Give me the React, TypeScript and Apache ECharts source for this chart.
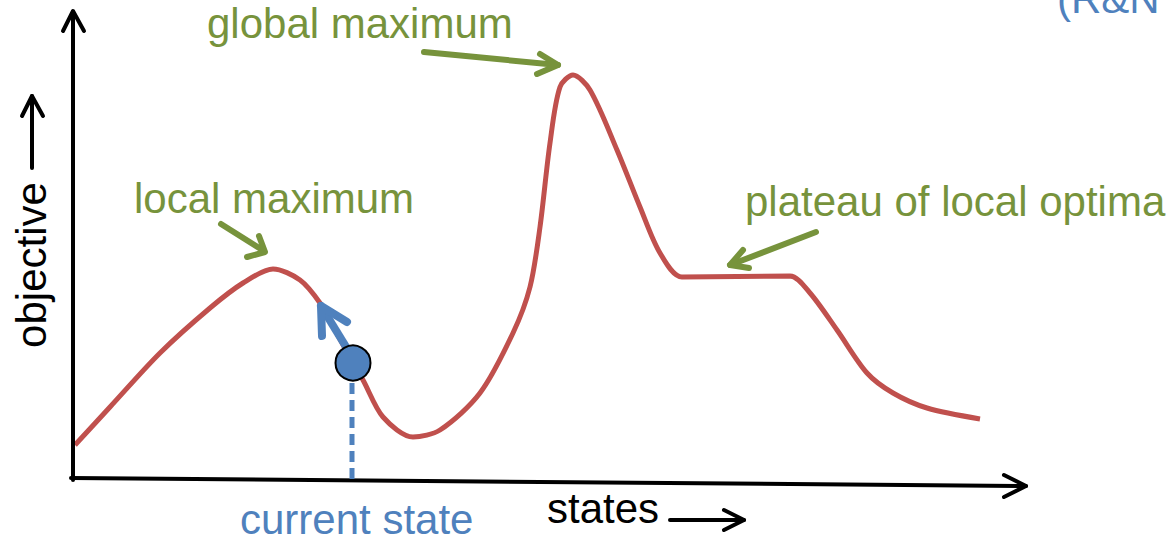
import React, { useEffect, useRef } from "react";
import * as echarts from "echarts";

// Objective landscape over states (x: state index, y: objective value)
const stateX: number[] = [2, 37, 87, 137, 170, 200, 227, 247, 262, 280, 290, 310, 340, 367, 407, 440, 457, 467, 477, 487, 500, 517, 544, 567, 587, 609, 717, 737, 764, 794, 820, 854, 907];
const objectiveY: number[] = [33, 71, 125, 170, 195, 209, 198, 175, 148, 115, 98, 61, 41, 48, 85, 145, 191, 251, 335, 391, 403, 388, 328, 271, 225, 201, 202, 185, 148, 105, 85, 70, 59];
const currentState: number[] = [280, 115];

const labels = {
  globalMax: "global maximum",
  localMax: "local maximum",
  plateau: "plateau of local optima",
  current: "current state",
  states: "states",
  objective: "objective",
  ref: "(R&N",
};

const RED = "#C0504D";
const GREEN = "#77933C";
const BLUE = "#4F81BD";
const FONT = '42px "Liberation Sans", Arial, sans-serif';

export default function App() {
  const ref = useRef<HTMLDivElement>(null);
  useEffect(() => {
    if (!ref.current) return;
    const chart = echarts.init(ref.current, undefined, { renderer: "svg" });
    const curve = stateX.map((x, i) => [x, objectiveY[i]]);

    const txt = (text: string, x: number, y: number, fill: string, extra: any = {}) => ({
      type: "text",
      x,
      y,
      z: 10,
      ...extra,
      style: { text, font: FONT, fill, align: extra.align || "left", verticalAlign: "middle" },
    });
    const pl = (points: number[][], stroke: string, lineWidth: number, extra: any = {}) => ({
      type: "polyline",
      z: 5,
      shape: { points },
      style: { stroke, lineWidth, fill: null, lineCap: "round", lineJoin: "round", ...extra },
    });

    chart.setOption({
      animation: false,
      backgroundColor: "#ffffff",
      grid: { left: 73, top: 12, width: 957, height: 466 },
      xAxis: {
        type: "value",
        min: 0,
        max: 957,
        axisLine: { show: false },
        axisTick: { show: false },
        axisLabel: { show: false },
        splitLine: { show: false },
      },
      yAxis: {
        type: "value",
        min: 0,
        max: 466,
        axisLine: { show: false },
        axisTick: { show: false },
        axisLabel: { show: false },
        splitLine: { show: false },
      },
      series: [
        {
          type: "line",
          name: "objective",
          data: curve,
          smooth: 0.3,
          showSymbol: false,
          lineStyle: { color: RED, width: 5 },
          z: 3,
        },
        {
          type: "scatter",
          name: "current state",
          data: [currentState],
          symbolSize: 35,
          itemStyle: { color: BLUE, borderColor: "#000", borderWidth: 2, opacity: 1 },
          z: 6,
        },
      ],
      graphic: [
        // axes
        pl([[73, 480], [73, 12]], "#000", 4),
        pl([[63, 31], [73, 11], [84, 31]], "#000", 4),
        pl([[71, 478], [1026, 486]], "#000", 4),
        pl([[1004, 475], [1026, 486], [1004, 497]], "#000", 4),
        // axis name arrows
        pl([[32, 168], [32, 96]], "#000", 4),
        pl([[22, 116], [32, 96], [43, 116]], "#000", 4),
        pl([[670, 520], [744, 520]], "#000", 4),
        pl([[724, 510], [744, 520], [724, 530]], "#000", 4),
        // current state dashed drop & move arrow
        pl([[352, 383], [352, 481]], BLUE, 5, { lineDash: [11, 6], lineCap: "butt" }),
        pl([[348, 350], [321, 306]], BLUE, 8),
        pl([[322, 336], [321, 306], [347, 322]], BLUE, 8),
        // green annotation arrows
        pl([[221, 224], [264, 251]], GREEN, 6),
        pl([[247, 257], [265, 252], [259, 236]], GREEN, 6),
        pl([[424, 52], [558, 65]], GREEN, 6),
        pl([[540, 54], [558, 65], [537, 74]], GREEN, 6),
        pl([[816, 232], [730, 265]], GREEN, 6),
        pl([[743, 250], [730, 265], [749, 268]], GREEN, 6),
        // labels
        txt(labels.globalMax, 207, 23, GREEN),
        txt(labels.localMax, 134, 198, GREEN),
        txt(labels.plateau, 745, 201, GREEN),
        txt(labels.current, 240, 519, BLUE),
        txt(labels.states, 547, 508, "#000"),
        txt(labels.ref, 1057, -2, BLUE),
        txt(labels.objective, 31, 265, "#000", { rotation: Math.PI / 2, align: "center" }),
      ],
    });
    return () => chart.dispose();
  }, []);
  return (
    <div
      ref={ref}
      style={{ position: "fixed", left: 0, top: 0, width: 1176, height: 537, background: "#fff" }}
    />
  );
}
